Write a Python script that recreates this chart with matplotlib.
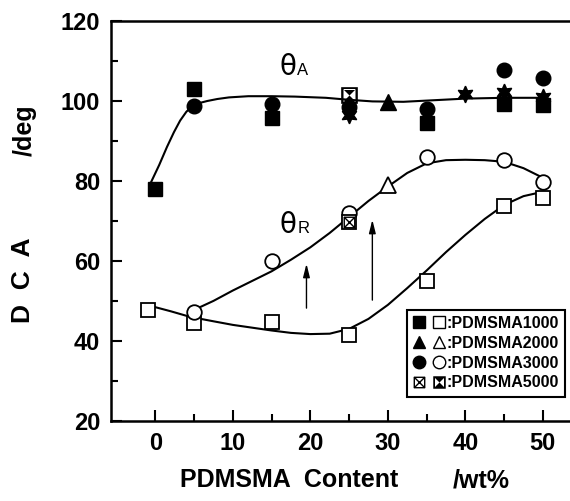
import numpy as np
import matplotlib
matplotlib.use("Agg")
from matplotlib import pyplot as plt
from matplotlib.path import Path
from matplotlib.lines import Line2D
from matplotlib.legend_handler import HandlerTuple

plt.rcParams.update({
    "font.family": ["Liberation Sans", "DejaVu Sans"],
    "font.weight": "bold",
})

# advancing angle (filled symbols)
adv_1000_x = [0, 5, 15, 35, 45, 50]
adv_1000_y = [78, 103, 95.8, 94.6, 99.3, 99.0]
adv_2000_x = [30]
adv_2000_y = [99.8]
adv_3000_x = [5, 15, 25, 35, 45, 50]
adv_3000_y = [98.8, 99.3, 98.5, 98.0, 107.8, 105.8]
adv_5000_x = [25]
adv_5000_y = [101.5]
star_x = [25, 40, 45, 50]
star_y = [96.5, 101.7, 102.3, 101.0]

# receding angle (open symbols)
rec_1000_x = [-1, 5, 15, 25, 35, 45, 50]
rec_1000_y = [47.8, 44.5, 44.6, 41.5, 55.0, 73.7, 75.8]
rec_2000_x = [30]
rec_2000_y = [79.0]
rec_3000_x = [5, 15, 25, 35, 45, 50]
rec_3000_y = [47.2, 60.0, 72.0, 86.0, 85.3, 79.8]
rec_5000_x = [25]
rec_5000_y = [69.8]

# guide curves
guideA_x = [-0.6, 0.5, 1.5, 2.4, 3.2, 4.0, 4.8, 5.7, 6.7, 8.0, 9.5, 12, 15, 18, 22, 25, 28, 32, 36, 40, 45, 50]
guideA_y = [79.5, 84.0, 88.5, 92.2, 95.1, 97.3, 98.8, 99.5, 100.0, 100.5, 100.9, 101.2, 101.2, 101.1, 100.8, 100.3, 99.9, 99.8, 100.2, 100.6, 100.8, 100.8]
guideR1_x = [4.5, 7.5, 10, 12.5, 15, 17.5, 20, 22.5, 25, 27.5, 30, 32.5, 35, 37.5, 40, 42.5, 45, 47.5, 50]
guideR1_y = [47.3, 50.0, 52.6, 55.0, 57.4, 60.3, 63.4, 67.0, 71.0, 75.0, 78.6, 82.0, 84.4, 85.2, 85.3, 85.2, 84.8, 83.2, 80.8]
guideR2_x = [-1.1, 2, 4.5, 7.5, 10, 12.5, 15, 17.5, 20, 22.5, 25, 27.5, 30, 32.5, 35, 37.5, 40, 42.5, 45, 47.5, 50]
guideR2_y = [49.0, 47.4, 46.0, 44.9, 44.0, 43.3, 42.6, 42.0, 41.7, 41.8, 43.0, 45.5, 49.0, 53.2, 57.6, 62.2, 66.5, 70.5, 74.0, 76.2, 77.3]

legend_labels = [":PDMSMA1000", ":PDMSMA2000", ":PDMSMA3000", ":PDMSMA5000"]

# crossed box marker (outline + diagonals, stroked only)
crossed_box = Path(
    [(-1, -1), (1, -1), (1, 1), (-1, 1), (-1, -1), (-1, -1), (1, 1), (-1, 1), (1, -1)],
    [Path.MOVETO, Path.LINETO, Path.LINETO, Path.LINETO, Path.CLOSEPOLY,
     Path.MOVETO, Path.LINETO, Path.MOVETO, Path.LINETO])
# box ring with filled hourglass inside
hour_box = Path(
    [(-1, -1), (1, -1), (1, 1), (-1, 1), (-1, -1),
     (-0.72, -0.72), (-0.72, 0.72), (0.72, 0.72), (0.72, -0.72), (-0.72, -0.72),
     (-0.72, 0.72), (0.72, 0.72), (0, 0), (-0.72, 0.72),
     (-0.72, -0.72), (0, 0), (0.72, -0.72), (-0.72, -0.72)],
    [Path.MOVETO, Path.LINETO, Path.LINETO, Path.LINETO, Path.CLOSEPOLY,
     Path.MOVETO, Path.LINETO, Path.LINETO, Path.LINETO, Path.CLOSEPOLY,
     Path.MOVETO, Path.LINETO, Path.LINETO, Path.CLOSEPOLY,
     Path.MOVETO, Path.LINETO, Path.LINETO, Path.CLOSEPOLY])

fig = plt.figure(figsize=(5.7, 5.01), dpi=100)
ax = fig.add_axes([0.195, 0.16, 0.805, 0.798])

k = "black"
ms = 10.5
ax.plot(guideA_x, guideA_y, color=k, lw=1.5, zorder=2)
ax.plot(guideR1_x, guideR1_y, color=k, lw=1.5, zorder=2)
ax.plot(guideR2_x, guideR2_y, color=k, lw=1.5, zorder=2)

ax.plot(star_x, star_y, ls="none", marker=(6, 1, 0), ms=12, color=k, zorder=3)
ax.plot(adv_1000_x, adv_1000_y, ls="none", marker="s", ms=ms, color=k, zorder=3)
ax.plot(adv_3000_x, adv_3000_y, ls="none", marker="o", ms=ms, color=k, zorder=3)
ax.plot(adv_2000_x, adv_2000_y, ls="none", marker="^", ms=12, color=k, zorder=3)
ax.plot(adv_5000_x, adv_5000_y, ls="none", marker=hour_box, ms=12, color=k, mew=0, zorder=4)

ax.plot(rec_1000_x, rec_1000_y, ls="none", marker="s", ms=ms, mfc="white", mec=k, mew=1.3, zorder=3)
ax.plot(rec_3000_x, rec_3000_y, ls="none", marker="o", ms=ms, mfc="white", mec=k, mew=1.3, zorder=3)
ax.plot(rec_2000_x, rec_2000_y, ls="none", marker="^", ms=12, mfc="white", mec=k, mew=1.3, zorder=3)
ax.plot(rec_5000_x, rec_5000_y, ls="none", marker="s", ms=ms, mfc="white", mec=k, mew=1.3, zorder=3)
ax.plot(rec_5000_x, rec_5000_y, ls="none", marker=crossed_box, ms=ms * 0.72, mfc="none", mec=k, mew=1.0, zorder=4)

# arrows
ax.annotate("", xy=(19.5, 60), xytext=(19.5, 47.5),
            arrowprops=dict(arrowstyle="-|>,head_length=0.8,head_width=0.2", color=k, lw=1))
ax.annotate("", xy=(28, 71), xytext=(28, 49.5),
            arrowprops=dict(arrowstyle="-|>,head_length=0.8,head_width=0.2", color=k, lw=1))

# theta labels
ax.text(16.0, 106.6, "θ", fontsize=20, fontweight="normal", family="DejaVu Sans", ha="left", va="baseline")
ax.text(18.3, 106.6, "A", fontsize=12, fontweight="normal", ha="left", va="baseline")
ax.text(16.0, 67.0, "θ", fontsize=20, fontweight="normal", family="DejaVu Sans", ha="left", va="baseline")
ax.text(18.3, 67.0, "R", fontsize=12, fontweight="normal", ha="left", va="baseline")

ax.set_xlim(-5.7, 53.5)
ax.set_ylim(20, 120)
ax.set_xticks([0, 10, 20, 30, 40, 50])
ax.set_xticks([5, 15, 25, 35, 45], minor=True)
ax.set_yticks([20, 40, 60, 80, 100, 120])
ax.set_yticks([30, 50, 70, 90, 110], minor=True)
ax.tick_params(which="both", direction="in", width=1.5, labelsize=17, pad=8)
ax.tick_params(which="major", length=8)
ax.tick_params(which="minor", length=5)
ax.spines["right"].set_visible(False)
for s in ["left", "bottom", "top"]:
    ax.spines[s].set_linewidth(1.8)

# legend
sq_f = Line2D([], [], ls="none", marker="s", ms=8, color=k)
sq_o = Line2D([], [], ls="none", marker="s", ms=8, mfc="white", mec=k, mew=1)
tr_f = Line2D([], [], ls="none", marker="^", ms=9, color=k)
tr_o = Line2D([], [], ls="none", marker="^", ms=9, mfc="white", mec=k, mew=1)
ci_f = Line2D([], [], ls="none", marker="o", ms=9, color=k)
ci_o = Line2D([], [], ls="none", marker="o", ms=9, mfc="white", mec=k, mew=1)
cb_o = Line2D([], [], ls="none", marker=crossed_box, ms=7.5, mfc="none", mec=k, mew=1)
hb_f = Line2D([], [], ls="none", marker=hour_box, ms=9, color=k, mew=0)
leg = ax.legend([(sq_f, sq_o), (tr_f, tr_o), (ci_f, ci_o), (cb_o, hb_f)], legend_labels,
                handler_map={tuple: HandlerTuple(ndivide=None, pad=0.6)},
                loc="lower right", bbox_to_anchor=(0.99, 0.06), fancybox=False,
                edgecolor=k, framealpha=1, handlelength=2.0, handletextpad=0.1,
                labelspacing=0.3, borderpad=0.4, borderaxespad=0,
                prop={"weight": "bold", "size": 11.5})
leg.get_frame().set_linewidth(1.5)

fig.text(0.316, 0.027, "PDMSMA  Content", fontsize=18, fontweight="bold", ha="left", va="baseline")
fig.text(0.795, 0.027, "/wt%", fontsize=18, fontweight="bold", ha="left", va="baseline")
fig.text(0.04, 0.44, "D  C  A", fontsize=19, fontweight="bold", rotation=90, ha="center", va="center")
fig.text(0.043, 0.74, "/deg", fontsize=18, fontweight="bold", rotation=90, ha="center", va="center")

fig.savefig("out.png", dpi=100)
